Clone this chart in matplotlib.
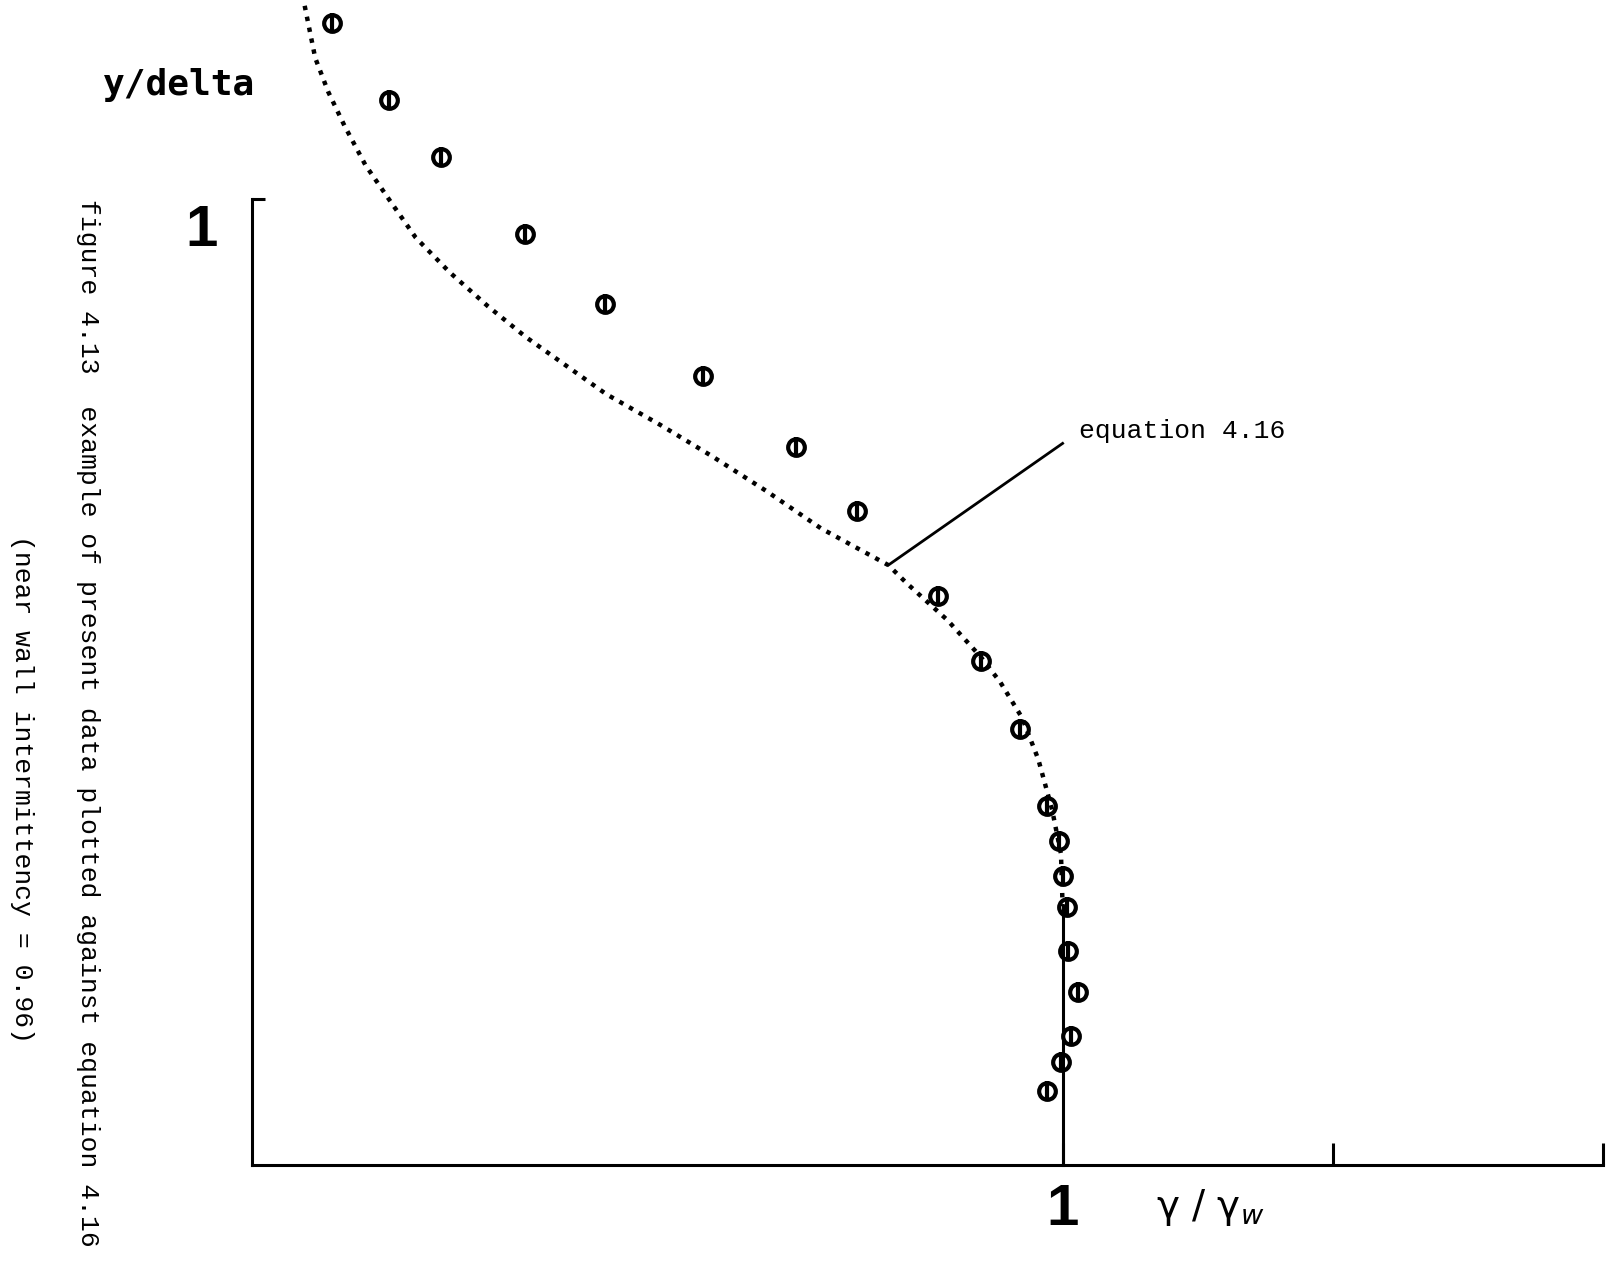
import numpy as np
import matplotlib
matplotlib.use("Agg")
import matplotlib.pyplot as plt

# measured data points (gamma/gamma_w, y/delta)
data_x = [0.099, 0.169, 0.233, 0.337, 0.435, 0.556, 0.671, 0.746, 0.846, 0.899,
          0.948, 0.981, 0.995, 1.001, 1.006, 1.007, 1.019, 1.010, 0.998, 0.981]
data_y = [1.182, 1.102, 1.043, 0.964, 0.891, 0.817, 0.743, 0.677, 0.589, 0.522,
          0.451, 0.372, 0.335, 0.299, 0.267, 0.222, 0.179, 0.134, 0.107, 0.077]

# equation 4.16 curve
curve_x = [0.065, 0.078, 0.094, 0.114, 0.140, 0.172, 0.202, 0.244, 0.291, 0.338,
           0.385, 0.437, 0.504, 0.567, 0.634, 0.702, 0.785, 0.808, 0.858, 0.899,
           0.923, 0.950, 0.970, 0.987, 0.998, 1.000, 1.000]
curve_y = [1.200, 1.146, 1.111, 1.076, 1.035, 0.996, 0.960, 0.924, 0.889, 0.857,
           0.829, 0.798, 0.766, 0.734, 0.698, 0.659, 0.621, 0.602, 0.564, 0.526,
           0.500, 0.463, 0.420, 0.368, 0.322, 0.268, 0.000]

x_ticks = [1, 4 / 3, 5 / 3]
y_ticks = [1]
leader_x = [0.785, 1.0]
leader_y = [0.621, 0.747]

caption1 = "figure 4.13  example of present data plotted against equation 4.16"
caption2 = "(near wall intermittency = 0.96)"

W, H = 1614, 1271
fig = plt.figure(figsize=(W / 100, H / 100), dpi=100)
ax = fig.add_axes([252 / W, (H - 1165) / H, 1351 / W, 966 / H])

# curve: dotted part then solid vertical part near the wall
ax.plot(curve_x[:-1], curve_y[:-1], color='k', lw=3.2,
        linestyle=(0, (1, 1.5)), clip_on=False)
ax.plot(curve_x[-2:], curve_y[-2:], color='k', lw=2.2, clip_on=False)

# data markers (circle with a bar through it)
ax.plot(data_x, data_y, 'o', mfc='none', mec='k', ms=12, mew=3, clip_on=False)
ax.plot(data_x, data_y, '|', color='k', ms=14, mew=3, clip_on=False)

# leader line + label
ax.plot(leader_x, leader_y, color='k', lw=2.0, clip_on=False)
ax.text(1.02, 0.760, "equation 4.16", fontsize=19, family='Liberation Mono',
        ha='left', va='center')

ax.set_xlim(0, 5 / 3)
ax.set_ylim(0, 1)
ax.set_xticks(x_ticks)
ax.set_yticks(y_ticks)
ax.tick_params(axis='x', direction='in', length=16, width=2.2, labelbottom=False)
ax.tick_params(axis='y', direction='in', length=9, width=2.2, labelleft=False)
for s in ['top', 'right']:
    ax.spines[s].set_visible(False)
for s in ['left', 'bottom']:
    ax.spines[s].set_linewidth(2.2)
ax.patch.set_visible(False)

# axis labels
num_font = ['Liberation Sans Narrow', 'Liberation Sans']
fig.text(103 / W, 1 - 85 / H, "y/delta", fontsize=26, fontweight='bold',
         family='DejaVu Sans Mono', ha='left', va='center')
fig.text(202 / W, 1 - 231 / H, "1", fontsize=42, fontweight='bold',
         family=num_font, ha='center', va='center')
fig.text(1063 / W, 1 - 1210 / H, "1", fontsize=42, fontweight='bold',
         family=num_font, ha='center', va='center')
fig.text(1210 / W, 1 - 1208 / H, "γ / γ$_w$", fontsize=28,
         ha='center', va='center')

# rotated caption
fig.text(88 / W, 1 - 723 / H, caption1, fontsize=19, family='Liberation Mono',
         rotation=-90, ha='center', va='center')
fig.text(22 / W, 1 - 789 / H, caption2, fontsize=19, family='Liberation Mono',
         rotation=-90, ha='center', va='center')

fig.savefig("out.png", dpi=100, facecolor='white')
